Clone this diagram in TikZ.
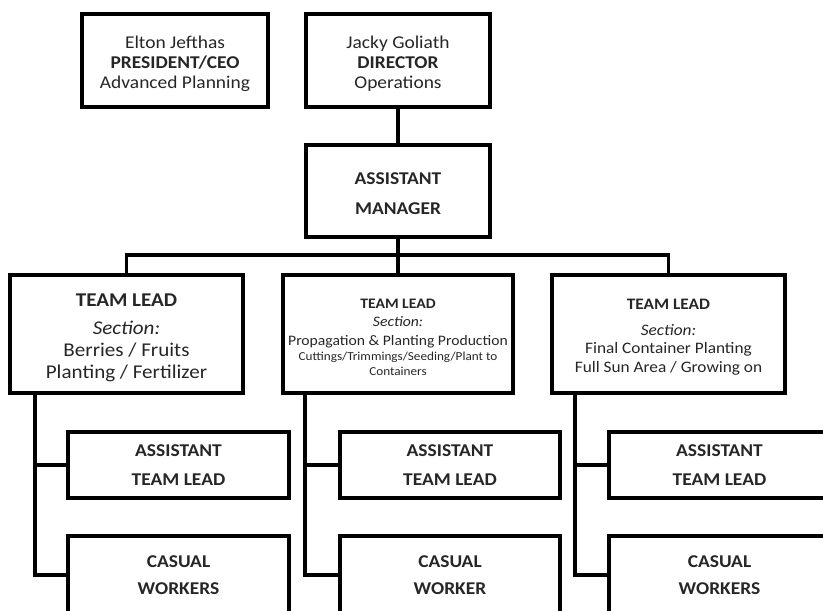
\documentclass[tikz,border=0pt]{standalone}
\usepackage{fontspec}
\setmainfont[FakeStretch=1.08]{Carlito}
\newcommand{\fs}[2]{\fontsize{#1}{#2}\selectfont}
% strut that pushes a text block down inside its box
\newcommand{\topgap}[1]{\rule{0pt}{#1}}
\begin{document}
\begin{tikzpicture}[x=1pt,y=-1pt,
  box/.style={draw, line width=3.2pt, inner sep=0pt, align=center,
    text=black!85, font=\fs{18}{20}},
  link/.style={line width=3.2pt}]
\useasboundingbox (0,0) rectangle (823,611);
\clip (0,0) rectangle (823,611);

% top row
\node[box, minimum width=186, minimum height=93] (ceo) at (175,60.5)
  {\topgap{18.5pt}Elton Jefthas\\\textbf{PRESIDENT/CEO}\\Advanced Planning};
\node[box, minimum width=184, minimum height=93] (dir) at (398,60.5)
  {\topgap{18.5pt}Jacky Goliath\\\textbf{DIRECTOR}\\Operations};

% assistant manager
\node[box, minimum width=184, minimum height=92] (am) at (398,191)
  {\topgap{18pt}\textbf{ASSISTANT}\\[10pt]\textbf{MANAGER}};

% team leads
\node[box, minimum width=233, minimum height=118, font=\fs{19.5}{22}] (tl1) at (126.5,334)
  {\topgap{20.6pt}\textbf{TEAM LEAD}\\[6pt]
   \textit{Section:}\\Berries / Fruits\\Planting / Fertilizer};
\node[box, minimum width=230, minimum height=118, font=\fs{14.5}{18.5}] (tl2) at (398,334)
  {\topgap{15.3pt}\textbf{TEAM LEAD}\\
   \textit{Section:}\\
   Propagation \& Planting Production\\[-3.5pt]
   {\fs{12.2}{15}Cuttings/Trimmings/Seeding/Plant to}\\[-3.5pt]
   {\fs{12.2}{15}Containers}};
\node[box, minimum width=233, minimum height=118, font=\fs{16}{18.5}] (tl3) at (668.5,334)
  {\topgap{16.3pt}\textbf{TEAM LEAD}\\[7.5pt]
   \textit{Section:}\\Final Container Planting\\Full Sun Area / Growing on};

% assistant team leads
\node[box, minimum width=221, minimum height=66] (atl1) at (178.5,465)
  {\textbf{ASSISTANT}\\[9pt]\textbf{TEAM LEAD}};
\node[box, minimum width=220, minimum height=66] (atl2) at (450,465)
  {\textbf{ASSISTANT}\\[9pt]\textbf{TEAM LEAD}};
\node[box, minimum width=221, minimum height=66] (atl3) at (719.5,465)
  {\textbf{ASSISTANT}\\[9pt]\textbf{TEAM LEAD}};

% casual workers
\node[box, minimum width=221, minimum height=78] (cw1) at (178.5,575)
  {\textbf{CASUAL}\\[7pt]\textbf{WORKERS}};
\node[box, minimum width=220, minimum height=78] (cw2) at (450,575)
  {\textbf{CASUAL}\\[7pt]\textbf{WORKER}};
\node[box, minimum width=221, minimum height=78] (cw3) at (719.5,575)
  {\textbf{CASUAL}\\[7pt]\textbf{WORKERS}};

% connectors
\draw[link] (dir.south) -- (am.north);
\coordinate (bus) at (398,255);
\draw[link] (am.south) -- (bus);
\draw[link] (tl1.north) |- (bus) -| (tl3.north);
\draw[link] (bus) -- (tl2.north);

\coordinate (s1) at (35,0);
\coordinate (s2) at (305,0);
\coordinate (s3) at (575,0);
\foreach \i in {1,2,3}{
  \draw[link] (tl\i.south -| s\i) |- (cw\i.west);
  \draw[link] (s\i |- atl\i.west) -- (atl\i.west);
}
\end{tikzpicture}
\end{document}
